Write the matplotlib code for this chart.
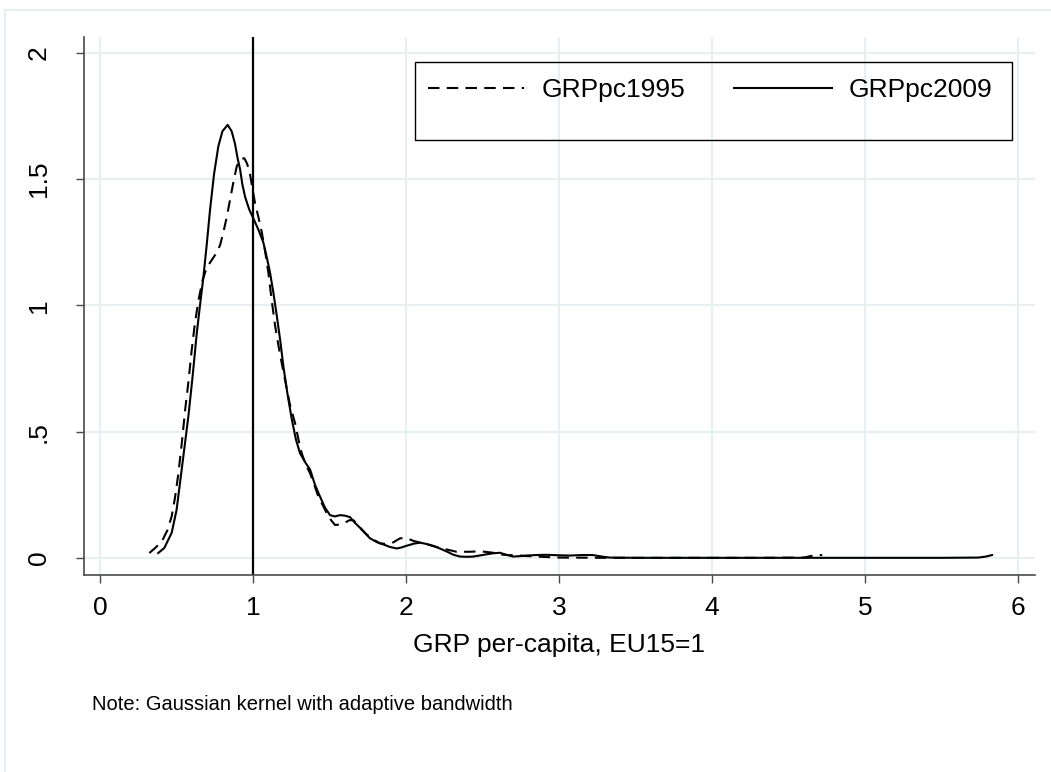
import numpy as np
import matplotlib
matplotlib.use('Agg')
import matplotlib.pyplot as plt
from matplotlib.lines import Line2D
from matplotlib.patches import Rectangle

plt.rcParams['font.family'] = ['Liberation Sans', 'DejaVu Sans']

# kernel density estimates
x1995 = [0.322, 0.36, 0.403, 0.44, 0.468, 0.49, 0.512, 0.535, 0.556, 0.578, 0.599,
         0.62, 0.643, 0.67, 0.697, 0.73, 0.763, 0.785, 0.806, 0.828, 0.85, 0.872,
         0.893, 0.918, 0.943, 0.962, 0.98, 0.997, 1.013, 1.035, 1.057, 1.08, 1.10,
         1.122, 1.144, 1.175, 1.209, 1.24, 1.275, 1.30, 1.318, 1.345, 1.373, 1.40,
         1.427, 1.455, 1.482, 1.51, 1.536, 1.57, 1.60, 1.63, 1.656, 1.70, 1.743,
         1.79, 1.83, 1.87, 1.91, 1.96, 2.0, 2.048, 2.10, 2.157, 2.21, 2.266, 2.33,
         2.418, 2.484, 2.53, 2.57, 2.636, 2.74, 2.85, 3.0, 3.3, 3.8, 4.3, 4.60,
         4.66, 4.72]
y1995 = [0.02, 0.04, 0.065, 0.11, 0.165, 0.24, 0.335, 0.46, 0.586, 0.70, 0.824,
         0.93, 1.02, 1.10, 1.15, 1.18, 1.21, 1.24, 1.29, 1.35, 1.42, 1.49,
         1.55, 1.58, 1.583, 1.56, 1.52, 1.46, 1.405, 1.35, 1.29, 1.21, 1.13,
         1.02, 0.92, 0.81, 0.705, 0.61, 0.533, 0.46, 0.415, 0.37, 0.335, 0.29,
         0.243, 0.21, 0.177, 0.15, 0.131, 0.133, 0.14, 0.15, 0.15, 0.12, 0.093,
         0.072, 0.058, 0.056, 0.06, 0.078, 0.08, 0.068, 0.06, 0.051, 0.042, 0.034, 0.025,
         0.025, 0.027, 0.024, 0.021, 0.013, 0.01, 0.006, 0.002, 0.001, 0.001, 0.001, 0.002,
         0.01, 0.012]

x2009 = [0.38, 0.42, 0.468, 0.50, 0.523, 0.55, 0.577, 0.605, 0.632, 0.655, 0.675,
         0.697, 0.719, 0.745, 0.773, 0.80, 0.834, 0.86, 0.882, 0.90, 0.915, 0.93,
         0.948, 0.975, 1.002, 1.035, 1.067, 1.09, 1.111, 1.133, 1.155, 1.178, 1.198,
         1.225, 1.253, 1.28, 1.307, 1.34, 1.373, 1.405, 1.438, 1.47, 1.503, 1.535,
         1.569, 1.60, 1.634, 1.665, 1.699, 1.73, 1.765, 1.81, 1.852, 1.895, 1.939,
         1.97, 2.0, 2.05, 2.092, 2.14, 2.18, 2.225, 2.266, 2.31, 2.353, 2.40, 2.44,
         2.49, 2.527, 2.57, 2.614, 2.66, 2.70, 2.75, 2.79, 2.85, 2.92, 3.0, 3.07,
         3.15, 3.22, 3.28, 3.33, 3.5, 4.0, 4.5, 5.0, 5.5, 5.74, 5.79, 5.83]
y2009 = [0.02, 0.04, 0.10, 0.19, 0.30, 0.43, 0.56, 0.72, 0.89, 1.01, 1.11,
         1.24, 1.38, 1.52, 1.63, 1.69, 1.715, 1.69, 1.64, 1.58, 1.54, 1.48,
         1.43, 1.38, 1.345, 1.30, 1.25, 1.19, 1.13, 1.05, 0.96, 0.86, 0.76,
         0.65, 0.55, 0.47, 0.415, 0.38, 0.35, 0.29, 0.243, 0.20, 0.17, 0.165,
         0.17, 0.168, 0.162, 0.14, 0.12, 0.10, 0.078, 0.063, 0.054, 0.044, 0.038,
         0.042, 0.048, 0.057, 0.061, 0.055, 0.048, 0.037, 0.026, 0.013, 0.006, 0.005, 0.006,
         0.011, 0.015, 0.019, 0.021, 0.012, 0.006, 0.008, 0.01, 0.012, 0.013, 0.011, 0.01,
         0.012, 0.012, 0.006, 0.002, 0.001, 0.001, 0.001, 0.001, 0.001, 0.002, 0.006, 0.012]

xticks = [0, 1, 2, 3, 4, 5, 6]
yticks = [0, 0.5, 1, 1.5, 2]
ytick_labels = ['0', '.5', '1', '1.5', '2']
ref_line = 1.0

W, H = 1051, 772
fig = plt.figure(figsize=(W / 100, H / 100), dpi=100)
fig.patch.set_facecolor('white')

def fx(px):
    return px / W

def fy(py):
    return 1 - py / H

# light outer frame of the graph region
grid_c = '#e7eff2'
fig.add_artist(Line2D([fx(5), 1], [fy(10), fy(10)], color=grid_c, lw=1.5))
fig.add_artist(Line2D([fx(5), fx(5)], [fy(10), 0], color=grid_c, lw=1.5))

ax = fig.add_axes([fx(84), fy(575), fx(1035) - fx(84), fy(37) - fy(575)])
ax.plot(x1995, y1995, color='black', lw=1.5, dashes=(5.5, 3.5))
ax.plot(x2009, y2009, color='black', lw=1.5)
ax.axvline(ref_line, color='black', lw=1.6)

ax.set_xlim(-0.105, 6.111)
ax.set_ylim(-0.067, 2.063)
ax.set_xticks(xticks)
ax.set_yticks(yticks)
ax.set_yticklabels(ytick_labels)
ax.grid(True, color=grid_c, lw=1.5)
ax.set_axisbelow(True)

for s in ['top', 'right']:
    ax.spines[s].set_visible(False)
for s in ['left', 'bottom']:
    ax.spines[s].set_color('#4a4a4a')
    ax.spines[s].set_linewidth(1.2)
ax.tick_params(axis='both', length=6, width=1.0, color='#4a4a4a', labelsize=19)
ax.tick_params(axis='x', pad=9)
ax.tick_params(axis='y', pad=18)
for lbl in ax.get_yticklabels():
    lbl.set_rotation(90)
    lbl.set_va('center')

fig.text(fx(559), fy(652), 'GRP per-capita, EU15=1', fontsize=19, ha='center', va='baseline')
fig.text(fx(92), fy(705), 'Note: Gaussian kernel with adaptive bandwidth', fontsize=14.5,
         ha='left', va='center')

# legend box
fig.add_artist(Rectangle((fx(415), fy(140)), fx(1012) - fx(415), fy(62) - fy(140),
                         fill=False, edgecolor='black', lw=1.0, transform=fig.transFigure))
fig.add_artist(Line2D([fx(428), fx(524)], [fy(88), fy(88)], color='black', lw=1.5,
                      dashes=(5.5, 3.5)))
fig.add_artist(Line2D([fx(734), fx(832)], [fy(88), fy(88)], color='black', lw=1.5))
fig.text(fx(542), fy(97), 'GRPpc1995', fontsize=19, ha='left', va='baseline')
fig.text(fx(849), fy(97), 'GRPpc2009', fontsize=19, ha='left', va='baseline')

fig.savefig('out.png', dpi=100)
